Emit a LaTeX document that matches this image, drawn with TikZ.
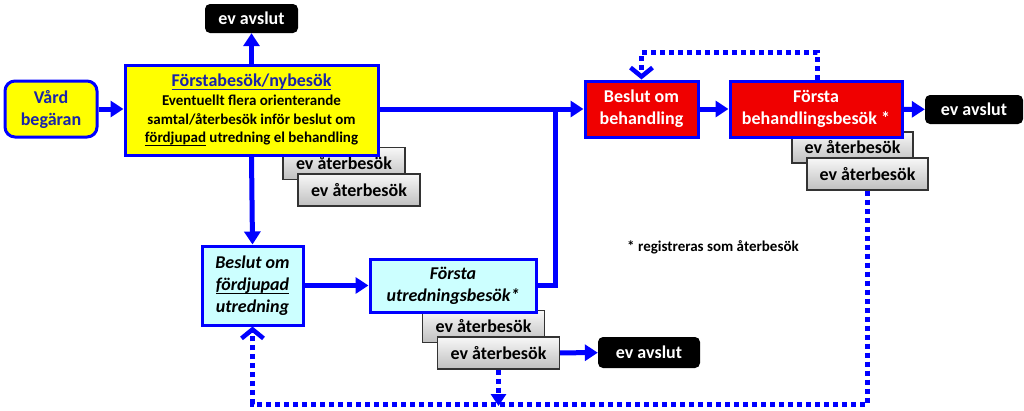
\documentclass[tikz,border=0pt]{standalone}
\usepackage{fontspec}
\setmainfont{Carlito}
\usetikzlibrary{arrows.meta}
\definecolor{lblue}{RGB}{0,0,255}
\definecolor{tblue}{RGB}{25,35,170}
\definecolor{byell}{RGB}{255,255,0}
\definecolor{bred}{RGB}{240,0,0}
\definecolor{bcyan}{RGB}{204,255,255}
\newcommand\ulx[1]{\setbox0=\hbox{#1}\rlap{\raisebox{-3.8pt}{\rule{\wd0}{1.4pt}}}\box0\relax}
\begin{document}
\begin{tikzpicture}[x=1pt,y=-1pt,
  box/.style={draw=lblue, line width=3pt, inner sep=0pt, align=center,
    font=\bfseries\fontsize{18}{22}\selectfont},
  ater/.style={draw=black!80, line width=1.3pt, top color=gray!6, bottom color=gray!50,
    minimum width=122pt, minimum height=32pt, inner sep=0pt,
    font=\bfseries\fontsize{18}{20}\selectfont},
  avsl/.style={fill=black, text=white, rounded corners=5pt, inner sep=0pt,
    font=\bfseries\fontsize{18}{20}\selectfont},
  conn/.style={draw=lblue, line width=5pt, -{Triangle[length=13pt,width=16pt]}},
  line/.style={draw=lblue, line width=5pt},
  dotl/.style={draw=lblue, line width=5pt, dash pattern=on 5pt off 4pt},
  barb/.style={-{Straight Barb[length=9pt,width=22pt,line width=4.5pt]}}
]
\useasboundingbox (0,0) rectangle (1024,410);

% top-left group
\node[avsl, minimum width=93pt, minimum height=29pt] (av1) at (251.5,18.5) {ev avslut};
\node[box, rounded corners=10pt, fill=byell, text=tblue, minimum width=92pt, minimum height=56pt] (vard) at (51,109) {Vård\\begäran};
\node[ater] (ater1a) at (344,163.5) {ev återbesök};
\node[ater] (ater1b) at (359,190) {ev återbesök};
\node[box, fill=byell, minimum width=253pt, minimum height=90pt,
      font=\bfseries\fontsize{15}{18.3}\selectfont] (forst) at (251.5,110)
  {{\fontsize{18}{19}\selectfont\color{tblue}\ulx{Förstabesök/nybesök}}\\[1pt]
   Eventuellt flera orienterande\\
   samtal/återbesök inför beslut om\\
   \ulx{fördjupad} utredning el behandling};

% utredning group
\node[box, fill=bcyan, minimum width=101pt, minimum height=79pt] (fd) at (252.5,285.5)
  {\itshape Beslut om\\ \itshape\ulx{fördjupad}\\ \itshape utredning};
\node[ater] (ater2a) at (483.5,326.5) {ev återbesök};
\node[ater] (ater2b) at (498.5,353) {ev återbesök};
\node[box, fill=bcyan, minimum width=166pt, minimum height=53pt] (fu) at (453,285.5)
  {\itshape Första\\ \itshape utredningsbesök*};
\node[avsl, minimum width=102pt, minimum height=31pt] (av2) at (649,352.5) {ev avslut};

% behandling group
\node[box, fill=bred, text=white, minimum width=113pt, minimum height=56pt] (bb) at (641.5,109) {Beslut om\\behandling};
\node[ater, minimum width=121pt, minimum height=31pt] (ater3a) at (852.5,147.5) {ev återbesök};
\node[ater, minimum width=121pt, minimum height=32pt] (ater3b) at (867.5,174) {ev återbesök};
\node[box, fill=bred, text=white, minimum width=172pt, minimum height=56pt] (fb) at (816,109) {Första\\behandlingsbesök *};
\node[avsl, minimum width=98pt, minimum height=29pt] (av3) at (974,109.5) {ev avslut};

\node[font=\bfseries\fontsize{15}{18}\selectfont, inner sep=0pt] (note) at (713,247) {* registreras som återbesök};

% solid connectors
\draw[conn] (vard) -- (vard -| forst.west);
\draw[conn] (forst.north) -- (av1.south);
\draw[conn] (forst.south) -- (fd.north);
\draw[conn] (fd) -- (fu);
\draw[conn] (forst.east |- bb) -- (bb.west);
\coordinate (j) at (555,109);
\draw[line, line join=miter] (fu.east) -| (j);
\draw[conn] (bb) -- (fb);
\draw[conn] (fb) -- (av3);
\draw[conn] (ater2b) -- (av2);

% dotted connectors
\coordinate (d1) at (817,52);
\coordinate (d2) at (868,404);
\draw[dotl, barb] (fb.north -| d1) -- (d1) -| (bb.north);
\draw[dotl, barb] (ater3b.south) -- (ater3b.south |- d2) -| (fd.south);
\draw[dotl, -{Triangle[length=12pt,width=15pt]}] (ater2b.south) -- ([yshift=-2pt]ater2b.south |- d2);
\end{tikzpicture}
\end{document}
